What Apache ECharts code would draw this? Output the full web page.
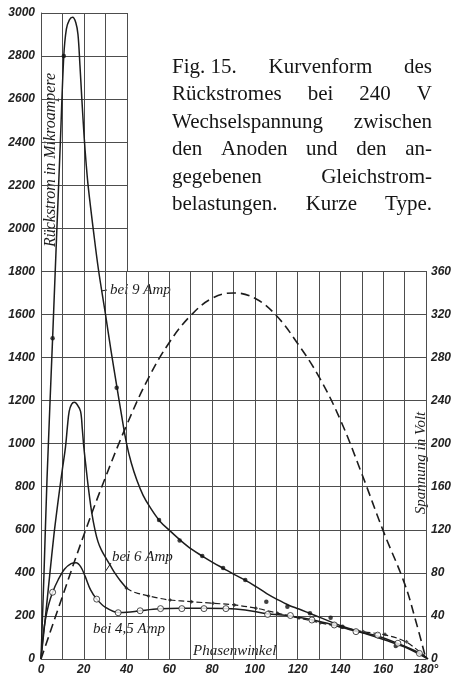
<!DOCTYPE html>
<html>
<head>
<meta charset="utf-8">
<script src="https://cdn.jsdelivr.net/npm/echarts@6/dist/echarts.min.js"></script>
<style>
  html, body { margin: 0; padding: 0; background: #fff; }
  #chart { width: 454px; height: 676px; }
</style>
</head>
<body>
<div id="chart"></div>
<script>
// Rückstrom (µA) against Phasenwinkel (°) for three DC loads, plus the AC voltage (V).

// 9 A load: smooth curve and measured points
const amp9Deg = [0, 1.4, 2.8, 5.4, 7.2, 9, 10.6, 11.8, 13.2, 14.7, 16.2, 17.2, 18.1, 19, 20.1, 21, 22, 24.5, 26.7, 30, 32.6, 35.2, 37.5, 39.8, 42, 44.6, 47.5, 50.7, 55.3, 60, 65, 70, 75, 80, 85, 90, 95, 100, 105, 110, 115, 120, 125, 130, 140, 150, 160, 170, 180];
const amp9Val = [0, 400, 837, 1490, 1950, 2400, 2800, 2925, 2968, 2980, 2955, 2900, 2760, 2600, 2420, 2300, 2190, 1980, 1810, 1600, 1430, 1270, 1130, 1000, 910, 830, 760, 705, 640, 595, 550, 510, 478, 448, 420, 392, 366, 336, 304, 276, 251, 232, 212, 192, 152, 121, 88, 52, 0];
const amp9DotDeg = [5.4, 10.6, 35.2, 54.9, 64.5, 75, 84.7, 95, 104.8, 114.6, 125.1, 134.7, 140.2, 165];
const amp9DotVal = [1490, 2800, 1260, 646, 550, 478, 423, 367, 266, 243, 212, 192, 150, 60];

// 6 A load
const amp6Deg = [0, 2, 4, 6, 7.4, 8.7, 10, 11.4, 12.3, 13.1, 14.2, 15.5, 16.8, 18.4, 19.2, 19.9, 21, 22.1, 23.6, 25.1, 26.5, 28, 30, 32.5, 34.3, 37, 39.7, 42, 45, 50, 55, 60, 70, 80, 90, 100, 110, 120, 130, 140, 150, 160, 170, 180];
const amp6Val = [0, 190, 385, 575, 690, 790, 885, 985, 1080, 1150, 1183, 1192, 1182, 1150, 1070, 986, 885, 790, 680, 600, 545, 508, 472, 430, 400, 362, 330, 316, 305, 293, 282, 274, 266, 259, 251, 236, 213, 190, 168, 147, 127, 112, 78, 0];
const amp6DotDeg = [39.7, 50, 60, 70, 80, 90, 100, 110, 120, 130, 140, 150, 160, 170];
const amp6DotVal = [330, 293, 274, 266, 259, 251, 236, 213, 190, 168, 147, 127, 115, 80];
const amp6DashFrom = 39.7; // the 6 A curve is drawn broken from here on

// 4,5 A load
const amp45Deg = [0, 1, 2, 3.5, 5.4, 8, 11, 14, 16.3, 18.5, 20.5, 23, 25.9, 30, 35.9, 40, 46, 55, 65, 75, 86, 95, 105, 116, 126, 136, 146, 156, 166, 176, 180];
const amp45Val = [0, 110, 180, 250, 310, 368, 418, 443, 447, 428, 385, 322, 278, 240, 216, 217, 224, 233, 236, 236, 235, 228, 210, 200, 182, 158, 130, 108, 72, 28, 0];
const amp45DotDeg = [5.4, 25.9, 35.9, 46.1, 55.6, 65.5, 75.8, 86, 105.4, 116, 126, 136.4, 146.5, 156.6, 166, 176];
const amp45DotVal = [310, 278, 215, 224, 234, 234, 234, 234, 207, 202, 181, 158, 127, 111, 73, 26];

// Wechselspannung between the anodes (V)
const voltDeg = [0, 10, 20, 30, 40, 50, 60, 70, 80, 90, 100, 110, 120, 130, 140, 150, 160, 170, 175, 180];
const voltVal = [0, 58, 115, 168, 217, 260, 294, 319, 335, 340, 335, 319, 293, 262, 222, 172, 119, 70, 37, 0];

// Axis ranges
const currentMax = 3000, currentStep = 200, lowerCurrentMax = 1800;
const voltMax = 360, voltStep = 40;
const phaseMax = 180, phaseStep = 10, phaseLabelStep = 20, upperPhaseMax = 40;

// Caption, one array of words per printed line (set justified)
const captionLines = [
  ['Fig. 15.', 'Kurvenform', 'des'],
  ['Rückstromes', 'bei', '240', 'V'],
  ['Wechselspannung', 'zwischen'],
  ['den', 'Anoden', 'und', 'den', 'an-'],
  ['gegebenen', 'Gleichstrom-'],
  ['belastungen.', 'Kurze', 'Type.']
];

const INK = '#1d1d1d';
const RULE = '#4d4d4d';
const tickFont = { fontFamily: 'Liberation Sans', fontStyle: 'italic', fontWeight: 'bold', fontSize: 12, color: '#222' };

// Plot frame in pixels
const L = 41, R = 428, T = 13, B = 659;
const W = R - L, H = B - T;
const lowerTop = T + H * (currentMax - lowerCurrentMax) / currentMax;
const upperW = W * upperPhaseMax / phaseMax;

const pairs = (xs, ys) => xs.map((x, i) => [x, ys[i]]);
const cut6 = amp6Deg.indexOf(amp6DashFrom);

const chart = echarts.init(document.getElementById('chart'), null, { renderer: 'canvas' });

// justified caption
const measure = document.createElement('canvas').getContext('2d');
const capFont = '21px "Liberation Serif"';
measure.font = capFont;
const capLeft = 172, capRight = 432, capBase0 = 74, capLead = 27.5;
const captionText = [];
captionLines.forEach((words, li) => {
  const widths = words.map(w => measure.measureText(w).width);
  const total = widths.reduce((a, b) => a + b, 0);
  const gap = words.length > 1 ? (capRight - capLeft - total) / (words.length - 1) : 0;
  let x = capLeft;
  words.forEach((w, wi) => {
    captionText.push({
      type: 'text', silent: true,
      style: { text: w, x: x, y: capBase0 + li * capLead - 7, font: capFont, fill: '#151515', verticalAlign: 'middle', align: 'left' }
    });
    x += widths[wi] + gap;
  });
});

const labelFont = 'italic 15px "Liberation Serif"';
const noteText = (text, x, y) => ({ type: 'text', silent: true, style: { text, x, y, font: labelFont, fill: INK, verticalAlign: 'middle', align: 'left' } });
const leader = (x1, y1, x2, y2) => ({ type: 'line', silent: true, shape: { x1, y1, x2, y2 }, style: { stroke: INK, lineWidth: 1 } });

const option = {
  animation: false,
  backgroundColor: '#fff',
  grid: [
    { left: L, top: T, width: W, height: H },
    { left: L, top: lowerTop, width: W, height: B - lowerTop },
    { left: L, top: T, width: upperW, height: lowerTop - T }
  ],
  xAxis: [
    { gridIndex: 0, type: 'value', min: 0, max: phaseMax, show: false },
    {
      gridIndex: 1, type: 'value', min: 0, max: phaseMax, interval: phaseStep,
      axisLine: { show: true, lineStyle: { color: RULE, width: 1 } },
      axisTick: { show: false },
      splitLine: { show: true, lineStyle: { color: RULE, width: 1 } },
      axisLabel: Object.assign({}, tickFont, {
        margin: 5,
        formatter: v => (v % phaseLabelStep === 0 ? (v === phaseMax ? v + '°' : String(v)) : '')
      })
    },
    {
      gridIndex: 2, type: 'value', min: 0, max: upperPhaseMax, interval: phaseStep,
      axisLine: { show: false }, axisTick: { show: false }, axisLabel: { show: false },
      splitLine: { show: true, lineStyle: { color: RULE, width: 1 } }
    }
  ],
  yAxis: [
    {
      gridIndex: 0, type: 'value', min: 0, max: currentMax, interval: currentStep,
      axisLine: { show: false }, axisTick: { show: false }, splitLine: { show: false },
      axisLabel: Object.assign({}, tickFont, { margin: 6, formatter: v => String(v) })
    },
    {
      gridIndex: 1, type: 'value', min: 0, max: lowerCurrentMax, interval: currentStep,
      axisLine: { show: true, lineStyle: { color: RULE, width: 1 } },
      axisTick: { show: false }, axisLabel: { show: false },
      splitLine: { show: true, lineStyle: { color: RULE, width: 1 } }
    },
    {
      gridIndex: 1, type: 'value', position: 'right', min: 0, max: voltMax, interval: voltStep,
      axisLine: { show: true, lineStyle: { color: RULE, width: 1 } },
      axisTick: { show: false }, splitLine: { show: false },
      axisLabel: Object.assign({}, tickFont, { margin: 5, formatter: v => String(v) })
    },
    {
      gridIndex: 2, type: 'value', min: lowerCurrentMax, max: currentMax, interval: currentStep,
      axisLine: { show: true, lineStyle: { color: RULE, width: 1 } },
      axisTick: { show: false }, axisLabel: { show: false },
      splitLine: { show: true, lineStyle: { color: RULE, width: 1 } }
    }
  ],
  series: [
    {
      name: 'Spannung', type: 'line', xAxisIndex: 1, yAxisIndex: 2,
      data: pairs(voltDeg, voltVal), smooth: 0.4, showSymbol: false,
      lineStyle: { color: INK, width: 1.6, type: [9, 5] }, z: 4
    },
    {
      name: 'bei 9 Amp', type: 'line', xAxisIndex: 0, yAxisIndex: 0,
      data: pairs(amp9Deg, amp9Val), smooth: 0.35, showSymbol: false,
      lineStyle: { color: INK, width: 1.5 }, z: 5
    },
    {
      name: 'bei 9 Amp Punkte', type: 'scatter', xAxisIndex: 0, yAxisIndex: 0,
      data: pairs(amp9DotDeg, amp9DotVal), symbol: 'circle', symbolSize: 4.5,
      itemStyle: { color: '#111' }, z: 7
    },
    {
      name: 'bei 6 Amp', type: 'line', xAxisIndex: 0, yAxisIndex: 0,
      data: pairs(amp6Deg.slice(0, cut6 + 1), amp6Val.slice(0, cut6 + 1)), smooth: 0.35, showSymbol: false,
      lineStyle: { color: INK, width: 1.5 }, z: 5
    },
    {
      name: 'bei 6 Amp (Forts.)', type: 'line', xAxisIndex: 0, yAxisIndex: 0,
      data: pairs(amp6Deg.slice(cut6), amp6Val.slice(cut6)), smooth: 0.35, showSymbol: false,
      lineStyle: { color: INK, width: 1.2, type: [6, 3] }, z: 5
    },
    {
      name: 'bei 6 Amp Punkte', type: 'scatter', xAxisIndex: 0, yAxisIndex: 0,
      data: pairs(amp6DotDeg, amp6DotVal), symbol: 'diamond', symbolSize: 4,
      itemStyle: { color: '#222' }, z: 7
    },
    {
      name: 'bei 4,5 Amp', type: 'line', xAxisIndex: 0, yAxisIndex: 0,
      data: pairs(amp45Deg, amp45Val), smooth: 0.35, showSymbol: false,
      lineStyle: { color: INK, width: 1.5 }, z: 5
    },
    {
      name: 'bei 4,5 Amp Punkte', type: 'scatter', xAxisIndex: 0, yAxisIndex: 0,
      data: pairs(amp45DotDeg, amp45DotVal), symbol: 'circle', symbolSize: 6,
      itemStyle: { color: '#fff', borderColor: '#222', borderWidth: 1 }, z: 8
    }
  ],
  graphic: captionText.concat([
    {
      type: 'text', silent: true, x: 51, y: 160, rotation: Math.PI / 2,
      style: { text: 'Rückstrom in Mikroampere', x: 0, y: 0, font: 'italic 16px "Liberation Serif"', fill: INK, align: 'center', verticalAlign: 'middle' }
    },
    {
      type: 'text', silent: true, x: 421, y: 463, rotation: Math.PI / 2,
      style: { text: 'Spannung in Volt', x: 0, y: 0, font: 'italic 15px "Liberation Serif"', fill: INK, align: 'center', verticalAlign: 'middle' }
    },
    noteText('bei 9 Amp', 110, 290),
    leader(101, 291, 107, 290),
    noteText('bei 6 Amp', 112, 557),
    leader(111, 563, 105, 572),
    noteText('bei 4,5 Amp', 93, 629),
    noteText('Phasenwinkel', 193, 651)
  ])
};

chart.setOption(option);
</script>
</body>
</html>
